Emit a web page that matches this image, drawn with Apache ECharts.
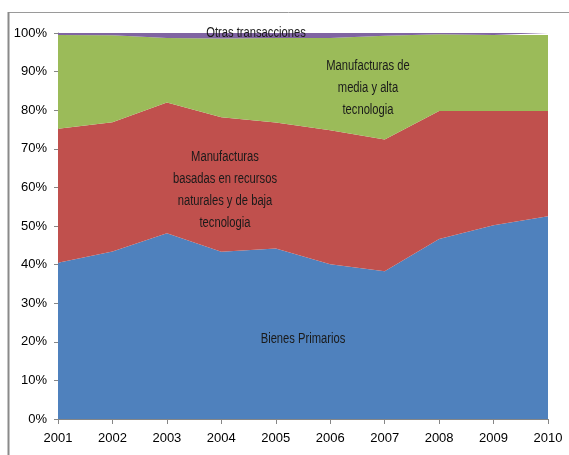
<html>
<head>
    <meta charset="utf-8" />
    <title>Composicion de exportaciones</title>
    <script src="https://cdn.jsdelivr.net/npm/echarts@6.0.0/dist/echarts.min.js"></script>
    <style>
        body { margin: 0; background: #fff; }
    </style>
</head>
<body>
    <div id="chart" style="width: 569px;height:455px;"></div>
    <script type="text/javascript">
        var years = ['2001', '2002', '2003', '2004', '2005', '2006', '2007', '2008', '2009', '2010'];
        // shares in % of total
        var bienesPrimarios = [40.5, 43.4, 48.1, 43.3, 44.2, 40.1, 38.3, 46.6, 50.2, 52.5];
        var manufBaja = [34.7, 33.5, 33.9, 34.9, 32.6, 34.7, 34.1, 33.2, 29.6, 27.3];
        var manufAlta = [24.3, 22.5, 16.7, 20.4, 21.9, 23.9, 26.9, 19.9, 19.7, 19.7];
        var otras = [0.5, 0.6, 1.3, 1.4, 1.3, 1.3, 0.7, 0.3, 0.5, 0.5];

        var font = "'Liberation Sans', sans-serif";
        var chart = echarts.init(document.getElementById('chart'));

        function areaSeries(name, data, color) {
            return {
                name: name,
                type: 'line',
                stack: 'total',
                data: data,
                symbol: 'none',
                lineStyle: { width: 0 },
                areaStyle: { color: color, opacity: 1 },
                emphasis: { disabled: true }
            };
        }

        // in-plot labels; squeezed horizontally to look like the narrow original font
        function label(text, x, y) {
            return {
                type: 'text',
                x: x,
                y: y,
                scaleX: 0.8,
                z: 100,
                style: {
                    text: text,
                    fill: '#1a1a1a',
                    font: '14px ' + font,
                    align: 'center',
                    verticalAlign: 'middle',
                    lineHeight: 22
                }
            };
        }

        var option = {
            animation: false,
            grid: { left: 58, right: 21, top: 33, bottom: 36 },
            xAxis: {
                type: 'category',
                data: years,
                boundaryGap: false,
                axisLine: { lineStyle: { color: '#868686' } },
                axisTick: { length: 5, lineStyle: { color: '#868686' } },
                axisLabel: { color: '#000', fontFamily: font, fontSize: 13, margin: 13 }
            },
            yAxis: {
                type: 'value',
                min: 0,
                max: 100,
                interval: 10,
                axisLine: { show: true, lineStyle: { color: '#868686' } },
                axisTick: { show: true, length: 4, lineStyle: { color: '#868686' } },
                splitLine: { show: false },
                axisLabel: { color: '#000', fontFamily: font, fontSize: 13, margin: 11, formatter: '{value}%' }
            },
            series: [
                areaSeries('Bienes Primarios', bienesPrimarios, '#4F81BD'),
                areaSeries('Manufacturas basadas en recursos naturales y de baja tecnologia', manufBaja, '#C0504D'),
                areaSeries('Manufacturas de media y alta tecnologia', manufAlta, '#9BBB59'),
                areaSeries('Otras transacciones', otras, '#8064A2')
            ],
            graphic: [
                { type: 'line', shape: { x1: 8, y1: 12.5, x2: 569, y2: 12.5 }, style: { stroke: '#9a9a9a', lineWidth: 1 } },
                { type: 'line', shape: { x1: 8.5, y1: 12, x2: 8.5, y2: 455 }, style: { stroke: '#8a8a8a', lineWidth: 2 } },
                label('Otras transacciones', 256, 33),
                label('Manufacturas de\nmedia y alta\ntecnologia', 368, 88),
                label('Manufacturas\nbasadas en recursos\nnaturales y de baja\ntecnologia', 225, 190),
                label('Bienes Primarios', 303, 339)
            ]
        };
        option && chart.setOption(option);
    </script>
</body>
</html>
